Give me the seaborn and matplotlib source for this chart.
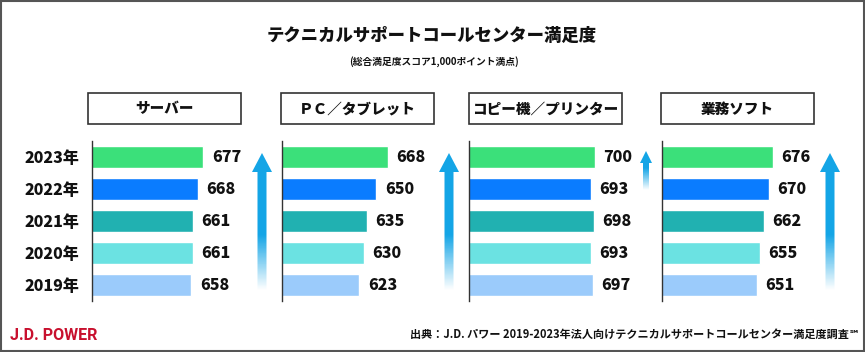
import numpy as np
import pandas as pd
import seaborn as sns
import matplotlib.pyplot as plt
from matplotlib.patches import Rectangle, Polygon
from matplotlib.colors import to_rgb

# data (top row = 2023)
years = ['2023年', '2022年', '2021年', '2020年', '2019年']
server = [677, 668, 661, 661, 658]
pc_tablet = [668, 650, 635, 630, 623]
copier = [700, 693, 698, 693, 697]
software = [676, 670, 662, 655, 651]
panel_titles = ['サーバー', 'ＰＣ／タブレット', 'コピー機／プリンター', '業務ソフト']
bar_colors = ['#3BE07A', '#0A7CFF', '#21B1B1', '#6BE2E2', '#9BCBFB']

rows = []
for name, vals in zip(panel_titles, [server, pc_tablet, copier, software]):
    for y, v in zip(years, vals):
        rows.append({'segment': name, 'year': y, 'score': v})
df = pd.DataFrame(rows)

sns.set_style('white')
plt.rcParams['font.family'] = ['Noto Sans CJK JP', 'DejaVu Sans']

W, H = 865, 352
fig = plt.figure(figsize=(W / 100, H / 100), dpi=100)

# overlay in pixel coords for boxes, arrows and free text (drawn on top)
ov = fig.add_axes([0, 0, 1, 1])
ov.axis('off')
ov.set_zorder(5)


def up_arrow(ax, xc, top, bottom, head_w, head_l, shaft_w, fade, color='#14A5E6'):
    pts = [(xc - shaft_w / 2, bottom), (xc - shaft_w / 2, top + head_l),
           (xc - head_w / 2, top + head_l), (xc, top),
           (xc + head_w / 2, top + head_l), (xc + shaft_w / 2, top + head_l),
           (xc + shaft_w / 2, bottom)]
    poly = Polygon(pts, closed=True, facecolor='none', edgecolor='none')
    ax.add_patch(poly)
    n = 300
    yy = np.linspace(top, bottom, n)
    img = np.zeros((n, 4, 4))
    img[..., :3] = to_rgb(color)
    img[:, :, 3] = np.clip((bottom - yy) / fade, 0, 1)[:, None]
    im = ax.imshow(img, extent=(xc - head_w, xc + head_w, bottom, top),
                   aspect='auto', interpolation='nearest')
    im.set_clip_path(poly)


axis_x = [92, 282, 469, 662]
box_x = [88, 281, 469, 661]
arrows = [(262, 153, 290, 20, 19, 9, 55),
          (449, 153, 290, 20, 19, 9, 55),
          (646, 151, 190, 12, 12, 6, 22),
          (830, 153, 290, 20, 19, 9, 55)]

for i, name in enumerate(panel_titles):
    ax = fig.add_axes([axis_x[i] / W, 1 - 301 / H, 170 / W, 160 / H])
    ax.patch.set_alpha(0)
    sub = df[df['segment'] == name]
    sns.barplot(data=sub, x='score', y='year', hue='year', order=years,
                hue_order=years, palette=bar_colors, width=0.69,
                saturation=1, legend=False, ax=ax)
    ax.set_xlim(500, 770)
    for c in ax.containers:
        ax.bar_label(c, fmt='%d', padding=6, fontsize=11.5, fontweight='heavy',
                     color='#111111')
    sns.despine(ax=ax, left=False, bottom=True)
    ax.spines['left'].set_color('#333333')
    ax.spines['left'].set_linewidth(1)
    ax.set_xticks([])
    ax.set_xlabel('')
    ax.set_ylabel('')
    ax.tick_params(axis='y', length=0, pad=9)
    if i == 0:
        for lab in ax.get_yticklabels():
            lab.set_fontsize(11.5)
            lab.set_fontweight('heavy')
            lab.set_color('#111111')
    else:
        ax.tick_params(labelleft=False)

    ov.add_patch(Rectangle((box_x[i], 93), 153, 31, facecolor='white',
                           edgecolor='#333333', lw=1.2))
    ov.text(box_x[i] + 76.5, 109, name, ha='center', va='center',
            fontsize=10.5, fontweight='heavy', color='#111111')
    up_arrow(ov, *arrows[i])

ov.text(432, 36, 'テクニカルサポートコールセンター満足度', ha='center', va='center',
        fontsize=12.5, fontweight='heavy', color='#111111')
ov.text(434, 62, '(総合満足度スコア1,000ポイント満点)', ha='center', va='center',
        fontsize=7, fontweight='bold', color='#111111')
ov.text(10, 336, 'J.D. POWER', ha='left', va='center', fontsize=11.5,
        fontweight='bold', color='#C8102E', family=['Roboto', 'DejaVu Sans'])
ov.text(860, 334, '出典：J.D. パワー 2019-2023年法人向けテクニカルサポートコールセンター満足度調査℠',
        ha='right', va='center', fontsize=8, fontweight='bold', color='#111111')
ov.add_patch(Rectangle((1, 1), W - 2, H - 2, facecolor='none',
                       edgecolor='#555555', lw=1.5))
ov.set_xlim(0, W)
ov.set_ylim(H, 0)

fig.savefig('out.png', dpi=100)
